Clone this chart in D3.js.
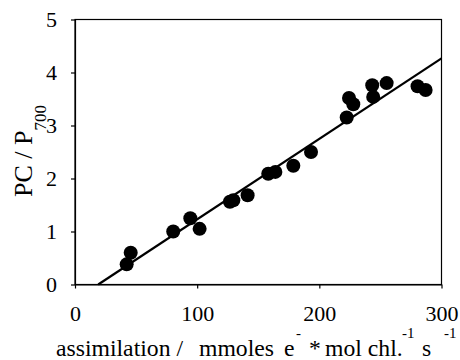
<!DOCTYPE html>
<html><head><meta charset="utf-8">
<script src="https://cdn.jsdelivr.net/npm/d3@7"></script>
<style>body{margin:0;background:#fff}svg{display:block}svg text,svg tspan{font-family:"Liberation Serif","Times New Roman",Times,"DejaVu Serif",serif !important;fill:#000}</style>
</head><body>
<script>
const assimilation = [42.3,45.6,80.4,94.4,102,126.8,129.6,141.3,158.2,164,178.7,193.2,222.4,224.3,227.8,243.3,244.1,255.1,280.4,287];
const pcP700 = [0.38,0.60,1.0,1.25,1.05,1.56,1.59,1.685,2.09,2.125,2.24,2.50,3.15,3.52,3.40,3.76,3.54,3.80,3.74,3.67];
const fitX = [19,300];
const fitY = [0,4.265];
const xTicks = [0,100,200,300];
const yTicks = [0,1,2,3,4,5];

const W=460,H=360;
const m={l:75,r:18.5,t:19.5,b:75.5};
const svg=d3.select("body").append("svg").attr("width",W).attr("height",H);
const x=d3.scaleLinear().domain([0,300]).range([m.l,W-m.r]);
const y=d3.scaleLinear().domain([0,5]).range([H-m.b,m.t]);

svg.append("rect").attr("x",x(0)).attr("y",y(5)).attr("width",x(300)-x(0)).attr("height",y(0)-y(5))
  .attr("fill","none").attr("stroke","#000").attr("stroke-width",1.2);

const xa=svg.append("g").attr("transform",`translate(0,${y(0)})`)
  .call(d3.axisBottom(x).tickValues(xTicks).tickFormat(d3.format("d")).tickSize(4).tickSizeOuter(0).tickPadding(17));
const ya=svg.append("g").attr("transform",`translate(${x(0)},0)`)
  .call(d3.axisLeft(y).tickValues(yTicks).tickFormat(d3.format("d")).tickSize(4).tickSizeOuter(0).tickPadding(14));
[xa,ya].forEach(a=>{a.attr("font-family",null).attr("font-size",null);
  a.select(".domain").attr("stroke","#000").attr("stroke-width",1.2);
  a.selectAll(".tick line").attr("stroke","#000").attr("stroke-width",1.2);
  a.selectAll("text").style("font-size","22px").attr("fill","#000");});

svg.append("line").attr("x1",x(fitX[0])).attr("y1",y(fitY[0])).attr("x2",x(fitX[1])).attr("y2",y(fitY[1]))
  .attr("stroke","#000").attr("stroke-width",2.2);

svg.append("g").selectAll("circle").data(assimilation).join("circle")
  .attr("cx",d=>x(d)).attr("cy",(d,i)=>y(pcP700[i])).attr("r",7).attr("fill","#000");

const base=355.5, sup=338;
const xt=svg.append("text").attr("x",56).attr("y",base).attr("text-anchor","start").style("font-size","23.7px");
xt.append("tspan").text("assimilation /");
xt.append("tspan").attr("x",199).attr("y",base).text("mmoles");
xt.append("tspan").attr("x",284).attr("y",base).text("e");
xt.append("tspan").attr("x",296).attr("y",sup).style("font-size","15px").text("-");
xt.append("tspan").attr("x",309).attr("y",base).text("*");
xt.append("tspan").attr("x",325).attr("y",base).text("mol chl.");
xt.append("tspan").attr("x",402).attr("y",sup).style("font-size","15px").text("-1");
xt.append("tspan").attr("x",422).attr("y",base).text("s");
xt.append("tspan").attr("x",444).attr("y",sup).style("font-size","15px").text("-1");

const yt=svg.append("text").attr("transform",`translate(32,197) rotate(-90)`).attr("text-anchor","start").style("font-size","26px");
yt.append("tspan").text("PC / P");
yt.append("tspan").attr("dy",14).style("font-size","17px").text("700");
</script>
</body></html>
